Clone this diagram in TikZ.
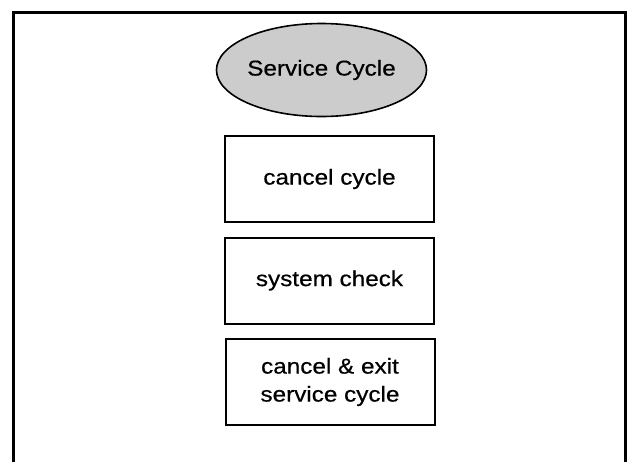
\documentclass[tikz,border=0pt]{standalone}
\usepackage{fontspec}
\setmainfont{Liberation Sans}[FakeStretch=1.13,FakeBold=0.6]
\usetikzlibrary{shapes.geometric}

\begin{document}
\begin{tikzpicture}[x=1pt,y=-1pt,font=\fontsize{21.5}{28}\selectfont,
 menu/.style={draw,line width=2pt,minimum width=209pt,minimum height=86pt,inner sep=0pt,align=center},
 title/.style={ellipse,draw,line width=1.6pt,fill=black!20,minimum width=209pt,minimum height=93pt,inner sep=0pt}]
\useasboundingbox (0,0) rectangle (631,461);
\clip (0,0) rectangle (631,461);
\draw[line width=3pt] (13.5,480) -- (13.5,12) -- (625,12) -- (625,480);
\node[title] (service) at (321.5,70) {Service Cycle};
\node[menu] (cancel) at (329.5,179) {cancel cycle};
\node[menu] (check) at (329.5,280.5) {system check};
\node[menu] (exit) at (330,382) {cancel \& exit\\service cycle};
\end{tikzpicture}
\end{document}
